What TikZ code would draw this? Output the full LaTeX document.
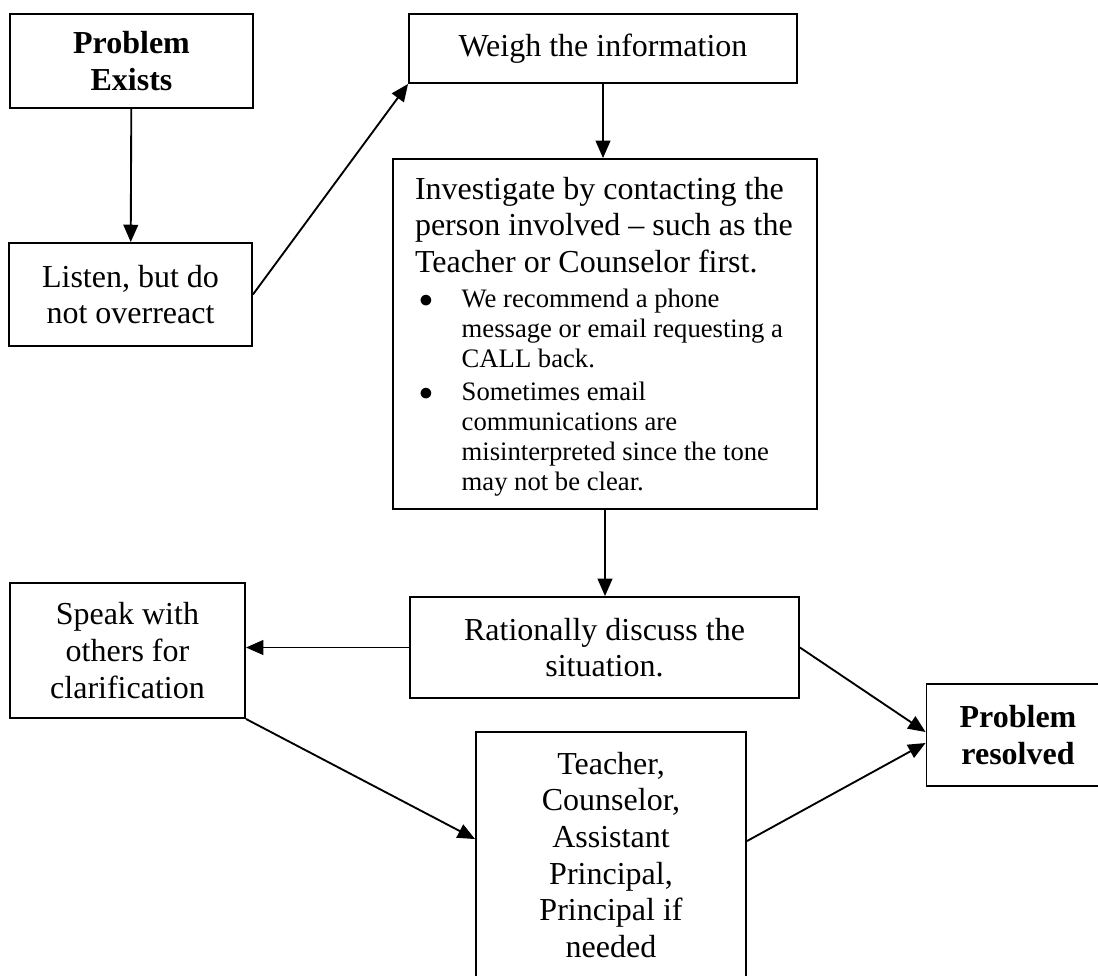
\documentclass[tikz,border=0pt]{standalone}
\usepackage{fontspec}
\setmainfont{Liberation Serif}
\usepackage{enumitem}
\usetikzlibrary{arrows.meta}

\newcommand{\mainsize}{\fontsize{24}{27.5}\selectfont}
\newcommand{\notesize}{\fontsize{20}{22.5}\selectfont}

\tikzset{
  box/.style = {draw, line width = 1.4pt, inner sep = 0pt,
                align = center, font = \mainsize},
  listbox/.style = {draw, line width = 1.4pt, inner sep = 0pt,
                    font = \mainsize},
  flow/.style = {-{Triangle[length = 13pt, width = 11pt]},
                 line width = 1.4pt}
}

\begin{document}
\begin{tikzpicture}[x = 0.75pt, y = -0.75pt]
\clip (0, 0) rectangle (1098, 975);

\node[box, font = \mainsize\bfseries, minimum width = 182.25pt,
      minimum height = 70.5pt] (exists) at (131.5, 61) {Problem\\Exists};
\node[box, minimum width = 182.25pt, minimum height = 77.25pt]
      (listen) at (130.5, 294.5) {Listen, but do\\not overreact};
\node[box, minimum width = 291pt, minimum height = 51.75pt]
      (weigh) at (603, 48.5) {Weigh the information};
\node[listbox] (investigate) at (605, 334)
  {\begin{minipage}[c][262.5pt][t]{318pt}
   \raggedright\leftskip = 16.5pt
   \rule{0pt}{30pt}Investigate by contacting the\\
   person involved – such as the\\
   Teacher or Counselor first.
   \begin{itemize}[label = $\bullet$, leftmargin = 51.5pt,
                   labelindent = 19.5pt, labelwidth = 10pt,
                   labelsep = *, align = left, topsep = 3.75pt,
                   partopsep = 0pt, parsep = 0pt, itemsep = 2.5pt]
   \notesize
   \item We recommend a phone\\ message or email requesting a\\ CALL back.
   \item Sometimes email\\ communications are\\
         misinterpreted since the tone\\ may not be clear.
   \end{itemize}
   \end{minipage}};
\node[box, minimum width = 291.75pt, minimum height = 75.75pt]
      (discuss) at (604.5, 647.5) {Rationally discuss the\\situation.};
\node[box, minimum width = 176.25pt, minimum height = 101.25pt]
      (speak) at (127.5, 650.5) {Speak with\\others for\\clarification};
\node[box, minimum width = 202.5pt, minimum height = 184.5pt]
      (staff) at (611, 855)
      {Teacher,\\Counselor,\\Assistant\\Principal,\\Principal if\\needed};
\node[box, font = \mainsize\bfseries, minimum width = 137.25pt,
      minimum height = 76.5pt] (resolved) at (1018, 735) {Problem\\resolved};

\draw [flow] (exists) -- (listen);
\draw [flow] (listen.east) -- (weigh.south west);
\draw [flow] (weigh.south) -- (weigh.south |- investigate.north);
\draw [flow] (investigate.south) -- (investigate.south |- discuss.north);
\draw [flow] (discuss.west) -- (discuss.west -| speak.east);
\draw [flow] (discuss.east) -- ([yshift = 2.25pt]resolved.west);
\draw [flow] (speak.south east) -- ([yshift = -81pt]staff.north west);
\draw [flow] ([yshift = -82.5pt]staff.north east)
             -- ([yshift = -6pt]resolved.west);
\end{tikzpicture}
\end{document}
